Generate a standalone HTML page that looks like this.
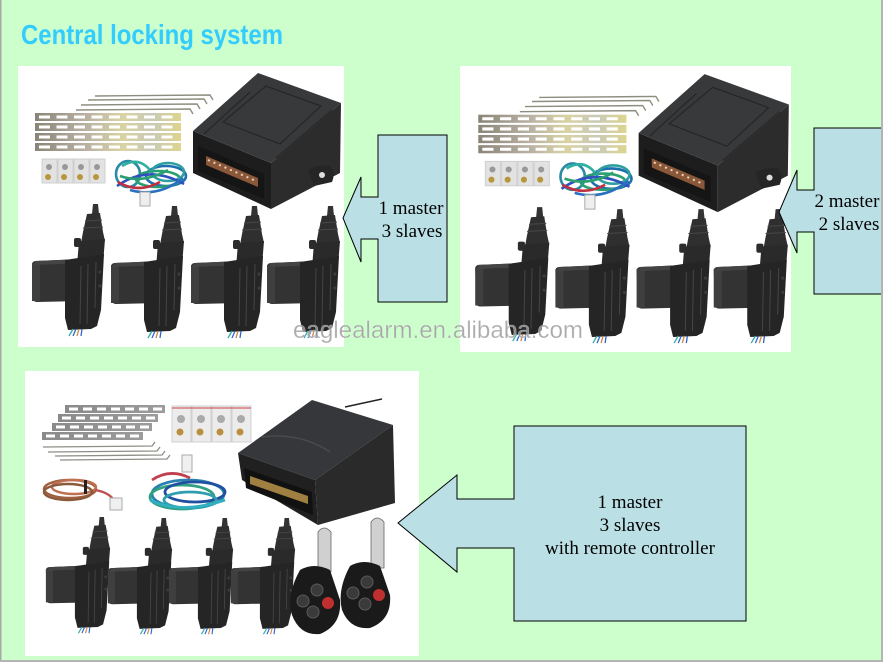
<!DOCTYPE html>
<html>
<head>
<meta charset="utf-8">
<style>
html,body{margin:0;padding:0;width:883px;height:662px;overflow:hidden;background:#ccffcc}
svg{display:block}
</style>
</head>
<body>
<svg width="883" height="662" viewBox="0 0 883 662" xmlns="http://www.w3.org/2000/svg">
<defs>
 <linearGradient id="metal" x1="0" x2="1" y1="0" y2="0">
  <stop offset="0" stop-color="#8a8478"/>
  <stop offset=".35" stop-color="#b9b2a4"/>
  <stop offset=".6" stop-color="#d9d3a3"/>
  <stop offset=".8" stop-color="#c9cab7"/>
  <stop offset="1" stop-color="#ddd58e"/>
 </linearGradient>
 <linearGradient id="gmetal" x1="0" x2="1" y1="0" y2="0">
  <stop offset="0" stop-color="#8a8a8a"/>
  <stop offset="1" stop-color="#9c9c9c"/>
 </linearGradient>

 <g id="act">
  <path d="M62,0 L67,0 L68,10 L61,10 Z" fill="#333"/>
  <path d="M56,10 L69,9 L72,28 L74,37 L50,39 L52,28 Z" fill="#2f2f2f"/>
  <g stroke="#474747" stroke-width="1">
   <line x1="54" y1="17" x2="71" y2="16"/>
   <line x1="52" y1="24" x2="72" y2="23"/>
  </g>
  <path d="M48,37 L74,35 L72,60 L46,62 Z" fill="#2a2a2a"/>
  <rect x="43" y="34" width="7" height="9" rx="2" fill="#2c2c2c"/>
  <path d="M5,57 L50,55 Q54,55 54,59 L55,93 Q55,97 51,97 L6,98 Q2,98 2,94 L1,61 Q1,57 5,57 Z" fill="#333"/>
  <rect x="1" y="59" width="8" height="38" fill="#3f3f3f"/>
  <path d="M4,57 L52,55 L52,59 L4,61 Z" fill="#444"/>
  <path d="M34,56 L73,50 L70,106 L66,122 L60,125 L37,126 L34,114 Z" fill="#252525"/>
  <g stroke="#454545" stroke-width="1">
   <line x1="50" y1="62" x2="49" y2="120"/>
   <line x1="57" y1="60" x2="56" y2="120"/>
   <line x1="65" y1="58" x2="64" y2="104"/>
  </g>
  <circle cx="69" cy="68" r="1.6" fill="#3c3c3c"/>
  <circle cx="69" cy="82" r="1.6" fill="#3c3c3c"/>
  <g stroke-width="1.3">
   <line x1="42" y1="125" x2="38" y2="132" stroke="#3aa"/>
   <line x1="45" y1="125" x2="42" y2="132" stroke="#36c"/>
   <line x1="48" y1="125" x2="46" y2="132" stroke="#c84"/>
   <line x1="51" y1="125" x2="50" y2="132" stroke="#36c"/>
  </g>
 </g>

 <g id="kit">
  <g stroke="#8e8e80" stroke-width="1.4" fill="none">
   <path d="M77,30 L192,29 L195,34"/>
   <path d="M70,34 L186,33 L189,38"/>
   <path d="M63,39 L179,38 L182,43"/>
   <path d="M58,44 L172,43 L175,48"/>
  </g>
  <g fill="url(#metal)">
   <rect x="17" y="47" width="146" height="8"/>
   <rect x="17" y="57" width="146" height="8"/>
   <rect x="17" y="67" width="146" height="8"/>
   <rect x="17" y="77" width="146" height="8"/>
  </g>
  <g stroke="#fff" stroke-width="3" stroke-dasharray="11 6.5">
   <line x1="21" y1="51" x2="160" y2="51"/>
   <line x1="21" y1="61" x2="160" y2="61"/>
   <line x1="21" y1="71" x2="160" y2="71"/>
   <line x1="21" y1="81" x2="160" y2="81"/>
  </g>
  <g>
   <rect x="24" y="93" width="15" height="24" fill="#e2e2e2" stroke="#cfcfcf"/>
   <rect x="40" y="93" width="15" height="24" fill="#e2e2e2" stroke="#cfcfcf"/>
   <rect x="56" y="93" width="15" height="24" fill="#e2e2e2" stroke="#cfcfcf"/>
   <rect x="72" y="93" width="15" height="24" fill="#e2e2e2" stroke="#cfcfcf"/>
   <g fill="#999"><circle cx="31" cy="101" r="3"/><circle cx="47" cy="101" r="3"/><circle cx="63" cy="101" r="3"/><circle cx="79" cy="101" r="3"/></g>
   <g fill="#b8963c"><circle cx="30" cy="111" r="3"/><circle cx="46" cy="111" r="3"/><circle cx="62" cy="111" r="3"/><circle cx="78" cy="111" r="3"/></g>
  </g>
  <g fill="none" stroke-width="2.6">
   <ellipse cx="110" cy="108" rx="12" ry="13" stroke="#2a8aa8"/>
   <ellipse cx="148" cy="110" rx="20" ry="10" stroke="#1f6fb0"/>
   <ellipse cx="140" cy="113" rx="22" ry="8" stroke="#2aa070"/>
   <ellipse cx="150" cy="106" rx="16" ry="9" stroke="#2f9fa0"/>
   <path d="M99,120 Q130,98 166,118" stroke="#3050c0"/>
   <path d="M100,116 Q120,128 142,116" stroke="#c03040"/>
   <path d="M104,100 Q120,90 132,104" stroke="#30b0a0"/>
   <path d="M112,124 Q140,132 165,112" stroke="#2a70c0"/>
   <path d="M102,110 Q125,118 150,104" stroke="#2aa070"/>
  </g>
  <rect x="122" y="126" width="10" height="14" fill="#eee" stroke="#aaa"/>
  <path d="M175,65 L253,97 L253,143 L175,107 Z" fill="#1d1d1d"/>
  <path d="M253,97 L323,37 L322,107 L253,143 Z" fill="#2c2c2c"/>
  <path d="M175,65 L240,7 L323,37 L253,97 Z" fill="#38393b"/>
  <path d="M205,56 L248,20 L303,40 L262,78 Z" fill="none" stroke="#262626" stroke-width="1.2"/>
  <line x1="186" y1="68" x2="232" y2="26" stroke="#262626" stroke-width="1.2"/>
  <line x1="258" y1="92" x2="314" y2="44" stroke="#262626" stroke-width="1.2"/>
  <path d="M180,80 L246,108 L246,133 L180,105 Z" fill="#151515"/>
  <path d="M188,90 L240,112 L240,121 L188,99 Z" fill="#8a5838"/>
  <line x1="190" y1="94" x2="238" y2="115" stroke="#e8d0c0" stroke-width="2" stroke-dasharray="2 4"/>
  <path d="M290,104 Q300,98 312,100 Q318,106 314,116 L296,120 Z" fill="#252525"/>
  <circle cx="304" cy="109" r="3" fill="#ddd"/>
  <use href="#act" transform="translate(13,138)"/>
  <use href="#act" transform="translate(92,140)"/>
  <use href="#act" transform="translate(172,140)"/>
  <use href="#act" transform="translate(248,140)"/>
 </g>
</defs>

<rect x="0" y="0" width="883" height="662" fill="#ccffcc"/>
<rect x="0" y="0" width="1.5" height="662" fill="#a8a8a8"/>
<rect x="0" y="660" width="883" height="2" fill="#b4b4b4"/>

<text x="21" y="44" font-family="Liberation Sans, Arial, sans-serif" font-weight="bold" font-size="28" fill="#33ccff" textLength="262" lengthAdjust="spacingAndGlyphs">Central locking system</text>

<rect x="18" y="66" width="326" height="281" fill="#fff"/>
<use href="#kit" transform="translate(18,66)"/>

<rect x="460" y="66" width="331" height="286" fill="#fff"/>
<use href="#kit" transform="translate(461,67) scale(1.015)"/>

<rect x="25" y="371" width="394" height="285" fill="#fff"/>
<g>
 <g fill="url(#gmetal)">
  <rect x="65" y="405" width="100" height="8"/>
  <rect x="58" y="414" width="100" height="8"/>
  <rect x="52" y="423" width="100" height="8"/>
  <rect x="42" y="432" width="101" height="8"/>
 </g>
 <g stroke="#fff" stroke-width="3" stroke-dasharray="9 5">
  <line x1="69" y1="409" x2="162" y2="409"/>
  <line x1="62" y1="418" x2="155" y2="418"/>
  <line x1="56" y1="427" x2="149" y2="427"/>
  <line x1="46" y1="436" x2="140" y2="436"/>
 </g>
 <g stroke="#8e8e86" stroke-width="1.3" fill="none">
  <path d="M43,447 L152,446 L155,442"/>
  <path d="M48,452 L157,451 L160,447"/>
  <path d="M55,456 L162,455 L165,451"/>
  <path d="M60,460 L167,459 L170,455"/>
 </g>
 <g>
  <rect x="172" y="406" width="19" height="36" fill="#ececec" stroke="#d0d0d0"/>
  <rect x="192" y="406" width="19" height="36" fill="#ececec" stroke="#d0d0d0"/>
  <rect x="212" y="406" width="19" height="36" fill="#ececec" stroke="#d0d0d0"/>
  <rect x="232" y="406" width="19" height="36" fill="#ececec" stroke="#d0d0d0"/>
  <line x1="172" y1="408" x2="251" y2="408" stroke="#d04040" stroke-width="1"/>
  <g fill="#aaa"><circle cx="181" cy="419" r="4"/><circle cx="201" cy="419" r="4"/><circle cx="221" cy="419" r="4"/><circle cx="241" cy="419" r="4"/></g>
  <g fill="#b89040"><circle cx="180" cy="432" r="3.5"/><circle cx="200" cy="432" r="3.5"/><circle cx="220" cy="432" r="3.5"/><circle cx="240" cy="432" r="3.5"/></g>
 </g>
 <g fill="none" stroke-width="2.4">
  <ellipse cx="70" cy="489" rx="26" ry="9" stroke="#a06040"/>
  <ellipse cx="74" cy="487" rx="22" ry="7" stroke="#c07050"/>
  <ellipse cx="68" cy="492" rx="24" ry="8" stroke="#8a5a3a"/>
  <path d="M95,490 Q108,492 114,500" stroke="#c05050"/>
 </g>
 <rect x="84" y="480" width="3" height="14" fill="#222"/>
 <rect x="110" y="498" width="12" height="12" fill="#f0f0f0" stroke="#aaa"/>
 <g fill="none" stroke-width="2.8">
  <ellipse cx="188" cy="494" rx="36" ry="14" stroke="#2a80b0"/>
  <ellipse cx="182" cy="497" rx="32" ry="12" stroke="#30a080"/>
  <ellipse cx="195" cy="492" rx="30" ry="10" stroke="#2050a0"/>
  <ellipse cx="190" cy="500" rx="26" ry="8" stroke="#2f9fb0"/>
  <path d="M152,480 Q170,468 190,478" stroke="#c04050"/>
  <path d="M150,500 Q180,515 225,500" stroke="#30b0c0"/>
 </g>
 <rect x="182" y="455" width="10" height="17" fill="#f0f0f0" stroke="#aaa"/>
 <path d="M238,453 L312,400 L393,425 L315,480 Z" fill="#35373a"/>
 <path d="M238,453 L315,480 L318,525 L242,480 Z" fill="#202020"/>
 <path d="M315,480 L393,425 L395,503 L318,525 Z" fill="#2a2a2a"/>
 <path d="M262,437 Q300,432 330,452" fill="none" stroke="#4a4a4a" stroke-width="1.5"/>
 <path d="M244,468 L312,492 L313,515 L246,488 Z" fill="#111"/>
 <path d="M250,476 L308,496 L308,504 L250,484 Z" fill="#a08040"/>
 <line x1="345" y1="407" x2="382" y2="399" stroke="#222" stroke-width="1.5"/>
 <use href="#act" transform="translate(45,517) scale(0.88)"/>
 <use href="#act" transform="translate(107,518) scale(0.88)"/>
 <use href="#act" transform="translate(168,518) scale(0.88)"/>
 <use href="#act" transform="translate(230,518) scale(0.88)"/>
 <path d="M318,572 L318,532 Q324,524 331,532 L331,572 Z" fill="#d0d0d0" stroke="#666" stroke-width="0.8"/>
 <path d="M300,570 Q314,562 330,570 L340,600 Q342,625 320,634 Q300,636 292,615 Q286,595 300,570 Z" fill="#1a1a1a"/>
 <g fill="#3a3a3a" stroke="#5a5a5a"><circle cx="317" cy="590" r="6"/><circle cx="303" cy="601" r="6"/><circle cx="313" cy="612" r="6"/></g>
 <circle cx="328" cy="603" r="6" fill="#c03030"/>
 <path d="M371,568 L371,522 Q377,514 384,522 L384,568 Z" fill="#d0d0d0" stroke="#666" stroke-width="0.8"/>
 <path d="M350,566 Q364,558 380,566 L390,595 Q392,620 370,628 Q350,630 342,610 Q337,590 350,566 Z" fill="#1a1a1a"/>
 <g fill="#3a3a3a" stroke="#5a5a5a"><circle cx="367" cy="582" r="6"/><circle cx="353" cy="593" r="6"/><circle cx="365" cy="604" r="6"/></g>
 <circle cx="379" cy="595" r="6" fill="#c03030"/>
</g>

<g fill="#badfe4" stroke="#000" stroke-width="1">
 <polygon points="378,135 447,135 447,302 378,302 378,239 361,239 361,262 343,218 361,177 361,197 378,197"/>
 <polygon points="814,128 900,128 900,294 814,294 814,232 797,232 797,253 779,212 797,170 797,190 814,190"/>
 <polygon points="514,426 746,426 746,621 514,621 514,548 457,548 457,572 398,523 457,475 457,499 514,499"/>
</g>
<rect x="881" y="0" width="2" height="662" fill="#b4b4b4"/>

<g font-family="Liberation Serif, 'Times New Roman', serif" font-size="19" fill="#000" text-anchor="middle">
 <text x="411" y="214">1 master</text>
 <text x="412" y="237">3 slaves</text>
 <text x="847" y="207">2 master</text>
 <text x="849" y="230">2 slaves</text>
 <text x="630" y="508">1 master</text>
 <text x="630" y="531">3 slaves</text>
 <text x="630" y="554">with remote controller</text>
</g>

<text x="293" y="338" font-family="Liberation Sans, Arial, sans-serif" font-size="24" fill="#9b9b9b" fill-opacity="0.85" stroke="#ffffff" stroke-opacity="0.4" stroke-width="0.6" textLength="290" lengthAdjust="spacingAndGlyphs">eaglealarm.en.alibaba.com</text>
</svg>
</body>
</html>
